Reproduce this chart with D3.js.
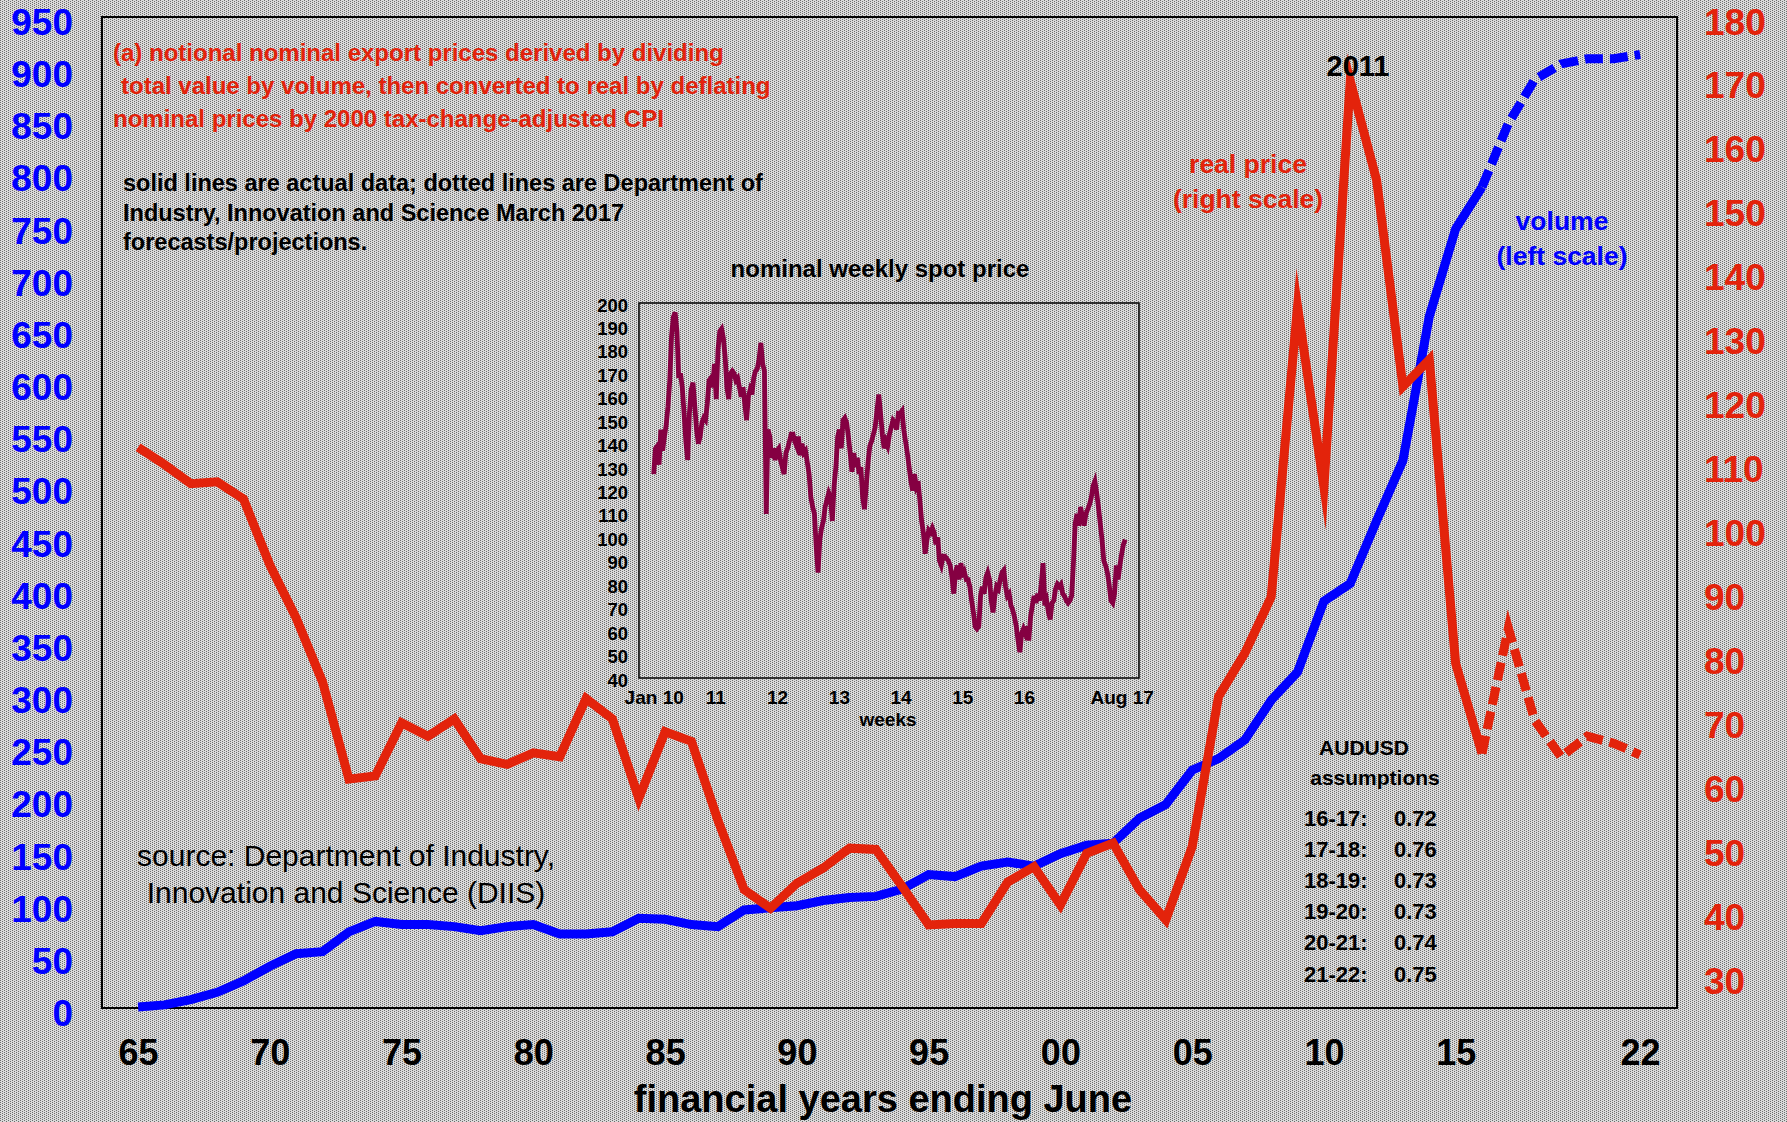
<!DOCTYPE html>
<html>
<head>
<meta charset="utf-8">
<script src="https://cdn.jsdelivr.net/npm/d3@7"></script>
<style>
  body { margin: 0; background: #c4c4c4; }
  svg text { font-family: "Liberation Sans", Arial, Helvetica, sans-serif; }
</style>
</head>
<body>
<svg id="chart" width="1787" height="1122"></svg>
<script>
// financial years ending June
const years = [1965, 1966, 1967, 1968, 1969, 1970, 1971, 1972, 1973, 1974,
    1975, 1976, 1977, 1978, 1979, 1980, 1981, 1982, 1983, 1984,
    1985, 1986, 1987, 1988, 1989, 1990, 1991, 1992, 1993, 1994,
    1995, 1996, 1997, 1998, 1999, 2000, 2001, 2002, 2003, 2004,
    2005, 2006, 2007, 2008, 2009, 2010, 2011, 2012, 2013, 2014,
    2015, 2016, 2017, 2018, 2019, 2020, 2021, 2022];
// volume, left scale
const volume = [1, 3, 8, 15, 26, 40, 52, 54, 73, 83,
    80, 80, 78, 74, 78, 80, 71, 71, 73, 86,
    85, 80, 78, 94, 96, 98, 103, 106, 107, 114,
    128, 126, 136, 140, 136, 148, 156, 158, 182, 195,
    228, 239, 257, 295, 322, 390, 407, 467, 525, 663,
    747, 787, 848, 890, 905, 910, 910, 914];
// real price, right scale
const realPrice = [112.7, 110, 107, 107.3, 104.6, 94.3, 86, 76, 60.8, 61.3,
    69.6, 67.5, 70.2, 64, 63.1, 64.9, 64.3, 73.4, 70.2, 57.8,
    68.2, 66.7, 54.4, 43.5, 40.6, 44.5, 46.9, 50, 49.8, 44,
    38, 38.2, 38.2, 44.7, 47.1, 41.1, 49.2, 50.8, 43.5, 38.8,
    50.2, 73.7, 80.5, 89.3, 134.7, 106.5, 170, 154.5, 122.2, 126.4,
    78.9, 64.8, 84.4, 70, 64.3, 67.5, 66.4, 64.6];
const forecastFrom = 2016; // dotted from here on

const leftTicks = [0, 50, 100, 150, 200, 250, 300, 350, 400, 450, 500, 550, 600, 650, 700, 750, 800, 850, 900, 950];
const rightTicks = [30, 40, 50, 60, 70, 80, 90, 100, 110, 120, 130, 140, 150, 160, 170, 180];
const yearTicks = [1965, 1970, 1975, 1980, 1985, 1990, 1995, 2000, 2005, 2010, 2015, 2022];
const yearLabels = ['65', '70', '75', '80', '85', '90', '95', '00', '05', '10', '15', '22'];

const audPeriods = ['16-17:', '17-18:', '18-19:', '19-20:', '20-21:', '21-22:'];
const audRates = ['0.72', '0.76', '0.73', '0.73', '0.74', '0.75'];

const spotStart = new Date(2010, 0, 1);
const spotStepDays = 10.57;
const spotPrice = [127, 138, 139, 131, 146, 137, 143, 148, 156, 167,
    186, 194, 196, 188, 168, 170, 164, 153, 141, 133,
    153, 163, 166, 156, 146, 140, 143, 149, 151, 150,
    157, 167, 168, 164, 174, 159, 180, 188, 189, 185,
    177, 164, 159, 170, 171, 170, 167, 168, 164, 160,
    164, 157, 150, 160, 163, 161, 168, 171, 172, 176,
    183, 174, 171, 110, 146, 143, 134, 138, 133, 137,
    138, 133, 130, 127, 136, 138, 141, 144, 144, 141,
    139, 143, 135, 140, 136, 137, 132, 127, 117, 113,
    110, 96, 85, 99, 104, 107, 113, 116, 119, 117,
    107, 122, 130, 143, 146, 138, 150, 151, 149, 143,
    136, 128, 136, 130, 134, 127, 130, 117, 112, 122,
    132, 139, 141, 144, 147, 154, 161, 153, 144, 138,
    141, 139, 144, 147, 150, 149, 146, 153, 153, 154,
    146, 141, 136, 130, 124, 120, 127, 122, 124, 116,
    107, 102, 93, 99, 103, 102, 104, 102, 97, 100,
    90, 88, 92, 92, 91, 90, 88, 83, 76, 85,
    88, 82, 89, 83, 85, 82, 82, 79, 73, 68,
    62, 61, 62, 75, 79, 76, 83, 85, 82, 73,
    68, 75, 79, 78, 82, 85, 86, 79, 75, 76,
    71, 69, 66, 62, 56, 51, 59, 61, 59, 62,
    56, 66, 71, 75, 72, 76, 73, 80, 89, 71,
    73, 68, 65, 72, 73, 78, 80, 79, 80, 76,
    75, 73, 72, 73, 75, 89, 106, 110, 105, 113,
    109, 105, 110, 112, 114, 117, 122, 124, 119, 113,
    106, 99, 90, 88, 85, 80, 73, 72, 76, 88,
    82, 88, 93, 97, 99];
const spotTicks = [40, 50, 60, 70, 80, 90, 100, 110, 120, 130, 140, 150, 160, 170, 180, 190, 200];
const spotDateTicks = [new Date(2010, 0, 1), new Date(2011, 0, 1), new Date(2012, 0, 1), new Date(2013, 0, 1),
    new Date(2014, 0, 1), new Date(2015, 0, 1), new Date(2016, 0, 1), new Date(2017, 7, 1)];
const spotDateLabels = ['Jan 10', '11', '12', '13', '14', '15', '16', 'Aug 17'];

const RED = '#e3230b';
const BLUE = '#0000ff';
const PLUM = '#850042';

const svg = d3.select('#chart');

// stippled grey background
const pat = svg.append('defs').append('pattern')
    .attr('id', 'stipple')
    .attr('width', 4).attr('height', 4)
    .attr('patternUnits', 'userSpaceOnUse');
pat.append('rect').attr('width', 4).attr('height', 4).attr('fill', '#dadada');
[[0, 0], [2, 1], [0, 2], [2, 3]].forEach(([px, py]) => {
    pat.append('rect').attr('x', px).attr('y', py).attr('width', 1).attr('height', 1).attr('fill', '#6c6c6c');
});
svg.append('rect').attr('width', 1787).attr('height', 1122).attr('fill', 'url(#stipple)');

// main scales
const plot = { left: 102, top: 17, right: 1677, bottom: 1008 };
const x = d3.scaleLinear().domain([1963.63, 2023.4]).range([plot.left, plot.right]);
const yL = d3.scaleLinear().domain([0, 950]).range([plot.bottom, plot.top]);
const yR = d3.scaleLinear().domain([25, 180]).range([plot.bottom, plot.top]);

svg.append('rect')
    .attr('x', plot.left).attr('y', plot.top)
    .attr('width', plot.right - plot.left).attr('height', plot.bottom - plot.top)
    .attr('fill', 'none').attr('stroke', '#000').attr('stroke-width', 2);

// left axis
const gL = svg.append('g').attr('transform', 'translate(73,0)')
    .call(d3.axisLeft(yL).tickValues(leftTicks).tickSize(0).tickPadding(0));
gL.select('.domain').remove();
gL.selectAll('text').attr('dy', 17.5).attr('fill', BLUE).attr('font-size', 37).attr('font-weight', 'bold');

// right axis
const gR = svg.append('g').attr('transform', 'translate(1704,0)')
    .call(d3.axisRight(yR).tickValues(rightTicks).tickSize(0).tickPadding(0));
gR.select('.domain').remove();
gR.selectAll('text').attr('dy', 17).attr('fill', RED).attr('font-size', 37).attr('font-weight', 'bold');

// bottom axis
const gB = svg.append('g').attr('transform', 'translate(0,1065)')
    .call(d3.axisBottom(x).tickValues(yearTicks).tickFormat((d, i) => yearLabels[i]).tickSize(0).tickPadding(0));
gB.select('.domain').remove();
gB.selectAll('text').attr('y', 0).attr('dy', 0).attr('fill', '#000').attr('font-size', 36).attr('font-weight', 'bold');

svg.append('text').attr('x', 883).attr('y', 1112).attr('text-anchor', 'middle')
    .attr('font-size', 38).attr('font-weight', 'bold').attr('fill', '#000').text('financial years ending June');

// main lines
const rows = years.map((yr, i) => ({ yr, vol: volume[i], price: realPrice[i] }));
const actual = rows.filter(d => d.yr <= forecastFrom);
const forecast = rows.filter(d => d.yr >= forecastFrom);

const volLine = d3.line().x(d => x(d.yr)).y(d => yL(d.vol));
const priceLine = d3.line().x(d => x(d.yr)).y(d => yR(d.price));

function drawLine(data, gen, colour, dashed) {
    svg.append('path').datum(data)
        .attr('d', gen)
        .attr('fill', 'none')
        .attr('stroke', colour)
        .attr('stroke-width', 9)
        .attr('stroke-linejoin', 'miter')
        .attr('stroke-miterlimit', 10)
        .attr('stroke-dasharray', dashed ? '18,7' : null);
}
drawLine(actual, volLine, BLUE, false);
drawLine(forecast, volLine, BLUE, true);
drawLine(actual, priceLine, RED, false);
drawLine(forecast, priceLine, RED, true);

// notes
function textBlock(lines, opts) {
    lines.forEach((t, i) => {
        svg.append('text')
            .attr('x', opts.xs ? opts.xs[i] : opts.x)
            .attr('y', opts.y + i * opts.lh)
            .attr('text-anchor', opts.anchor || 'start')
            .attr('font-size', opts.size)
            .attr('font-weight', opts.weight || 'bold')
            .attr('fill', opts.fill)
            .text(t);
    });
}

textBlock(['(a) notional nominal export prices derived by dividing',
    'total value by volume, then converted to real by deflating',
    'nominal prices by 2000 tax-change-adjusted CPI'],
    { xs: [113, 121, 113], y: 61, lh: 33, size: 24, fill: RED });

textBlock(['solid lines are actual data; dotted lines are Department of',
    'Industry, Innovation and Science March 2017',
    'forecasts/projections.'],
    { x: 123, y: 191, lh: 29.5, size: 23.5, fill: '#000' });

textBlock(['source: Department of Industry,', 'Innovation and Science (DIIS)'],
    { x: 346, y: 866, lh: 37, size: 30, fill: '#000', anchor: 'middle', weight: 'normal' });

textBlock(['real price', '(right scale)'], { x: 1248, y: 173, lh: 35, size: 26.5, fill: RED, anchor: 'middle' });
textBlock(['volume', '(left scale)'], { x: 1562, y: 230, lh: 35, size: 26.5, fill: BLUE, anchor: 'middle' });

svg.append('text').attr('x', 1358).attr('y', 76).attr('text-anchor', 'middle')
    .attr('font-size', 29).attr('font-weight', 'bold').attr('fill', '#000').text('2011');

// AUDUSD assumptions
svg.append('text').attr('x', 1364).attr('y', 755).attr('text-anchor', 'middle')
    .attr('font-size', 21).attr('font-weight', 'bold').attr('fill', '#000').text('AUDUSD');
svg.append('text').attr('x', 1375).attr('y', 785).attr('text-anchor', 'middle')
    .attr('font-size', 21).attr('font-weight', 'bold').attr('fill', '#000').text('assumptions');
audPeriods.forEach((p, i) => {
    const yy = 826 + i * 31.1;
    svg.append('text').attr('x', 1304).attr('y', yy).attr('font-size', 22).attr('font-weight', 'bold')
        .attr('fill', '#000').text(p);
    svg.append('text').attr('x', 1394).attr('y', yy).attr('font-size', 22).attr('font-weight', 'bold')
        .attr('fill', '#000').text(audRates[i]);
});

// inset chart
const inset = { left: 639, top: 303, right: 1139, bottom: 678 };
const xIn = d3.scaleTime()
    .domain([new Date(2009, 9, 6), new Date(2017, 10, 12)])
    .range([inset.left, inset.right]);
const yIn = d3.scaleLinear().domain([40, 200]).range([inset.bottom, inset.top]);

svg.append('rect')
    .attr('x', inset.left).attr('y', inset.top)
    .attr('width', inset.right - inset.left).attr('height', inset.bottom - inset.top)
    .attr('fill', 'none').attr('stroke', '#000').attr('stroke-width', 1.5);

svg.append('text').attr('x', 880).attr('y', 277).attr('text-anchor', 'middle')
    .attr('font-size', 24).attr('font-weight', 'bold').attr('fill', '#000').text('nominal weekly spot price');

const gIL = svg.append('g').attr('transform', 'translate(628,0)')
    .call(d3.axisLeft(yIn).tickValues(spotTicks).tickSize(0).tickPadding(0));
gIL.select('.domain').remove();
gIL.selectAll('text').attr('dy', 8).attr('fill', '#000').attr('font-size', 18.5).attr('font-weight', 'bold');

const gIB = svg.append('g').attr('transform', 'translate(0,704)')
    .call(d3.axisBottom(xIn).tickValues(spotDateTicks).tickFormat((d, i) => spotDateLabels[i]).tickSize(0).tickPadding(0));
gIB.select('.domain').remove();
gIB.selectAll('text').attr('y', 0).attr('dy', 0).attr('fill', '#000').attr('font-size', 19).attr('font-weight', 'bold');

svg.append('text').attr('x', 888).attr('y', 726).attr('text-anchor', 'middle')
    .attr('font-size', 19).attr('font-weight', 'bold').attr('fill', '#000').text('weeks');

const spot = spotPrice.map((v, i) => ({ date: new Date(spotStart.getTime() + i * spotStepDays * 864e5), v }));
svg.append('path').datum(spot)
    .attr('d', d3.line().x(d => xIn(d.date)).y(d => yIn(d.v)))
    .attr('fill', 'none')
    .attr('stroke', PLUM)
    .attr('stroke-width', 4.8)
    .attr('stroke-linejoin', 'miter');
</script>
</body>
</html>
